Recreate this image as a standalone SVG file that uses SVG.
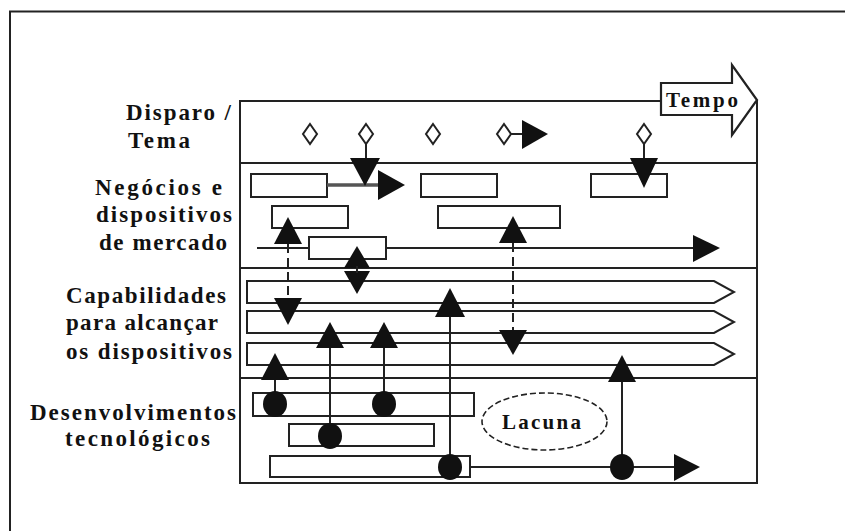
<svg xmlns="http://www.w3.org/2000/svg" width="845" height="531" viewBox="0 0 845 531">
<defs>
<style>
.ln{stroke:#222;stroke-width:2;fill:none}
.box{fill:#fff;stroke:#222;stroke-width:2}
.hd{fill:#111;stroke:none}
.dot{fill:#111}
.dash{stroke:#222;stroke-width:2;fill:none;stroke-dasharray:9,5}
.lbl{font-family:"Liberation Serif","Times New Roman",serif;font-weight:bold;font-size:23px;fill:#111}
.dia{fill:#fff;stroke:#222;stroke-width:2}
</style>
</defs>
<rect width="845" height="531" fill="#fff"/>
<!-- outer frame -->
<path class="ln" d="M10,531 V11.5 H845"/>
<!-- main area -->
<g id="frame">
<path class="ln" d="M661,101 H240 V483 H757 V100"/>
<path class="ln" d="M240,163 H757 M240,268 H757 M240,378 H757"/>
</g>
<g id="tempo">
<path d="M661,83 H732 V65 L757,100 L732,135 V115 H661 Z" fill="#fff" stroke="#222" stroke-width="2.2"/>
<text class="lbl" x="666" y="107" textLength="72" lengthAdjust="spacing" style="font-size:21px">Tempo</text>
</g>
<!-- labels -->
<g id="label-disparo">
<text class="lbl" x="126" y="120" textLength="105" lengthAdjust="spacing">Disparo /</text>
<text class="lbl" x="128" y="148" textLength="62" lengthAdjust="spacing">Tema</text>
</g>
<g id="label-negocios">
<text class="lbl" x="95" y="195" textLength="127" lengthAdjust="spacing">Negócios e</text>
<text class="lbl" x="96" y="222" textLength="136" lengthAdjust="spacing">dispositivos</text>
<text class="lbl" x="99" y="250" textLength="128" lengthAdjust="spacing">de mercado</text>
</g>
<g id="label-capabilidades">
<text class="lbl" x="66" y="303" textLength="160" lengthAdjust="spacing">Capabilidades</text>
<text class="lbl" x="66" y="330" textLength="152" lengthAdjust="spacing">para alcançar</text>
<text class="lbl" x="66" y="359" textLength="166" lengthAdjust="spacing">os dispositivos</text>
</g>
<g id="label-desenvolvimentos">
<text class="lbl" x="30" y="420" textLength="206" lengthAdjust="spacing">Desenvolvimentos</text>
<text class="lbl" x="65" y="446" textLength="145" lengthAdjust="spacing">tecnológicos</text>
</g>
<!-- trigger diamonds -->
<g id="triggers">
<path class="dia" d="M310,124 L317,134 L310,144 L303,134 Z"/>
<path class="dia" d="M366,124 L373,134 L366,144 L359,134 Z"/>
<path class="dia" d="M433,124 L440,134 L433,144 L426,134 Z"/>
<path class="dia" d="M504,124 L511,134 L504,144 L497,134 Z"/>
<path class="dia" d="M644,124 L651,134 L644,144 L637,134 Z"/>
</g>
<!-- business boxes -->
<g id="business">
<rect class="box" x="251" y="174" width="76" height="23"/>
<rect class="box" x="421" y="174" width="76" height="23"/>
<rect class="box" x="591" y="174" width="76" height="23"/>
<rect class="box" x="272" y="206" width="76" height="22"/>
<rect class="box" x="438" y="206" width="122" height="22"/>
<rect class="box" x="309" y="237" width="77" height="22"/>
</g>
<!-- capabilities -->
<g id="capabilities">
<path class="box" d="M247,281 H714 L734,292 L714,303 H247 Z"/>
<path class="box" d="M247,311 H714 L734,322 L714,333 H247 Z"/>
<path class="box" d="M247,343 H714 L734,354 L714,365 H247 Z"/>
</g>
<!-- technology boxes -->
<g id="technology">
<rect class="box" x="253" y="393" width="221" height="23"/>
<rect class="box" x="289" y="424" width="145" height="22"/>
<rect class="box" x="270" y="456" width="200" height="21"/>
</g>
<g id="lacuna">
<ellipse cx="544.5" cy="421.5" rx="62.5" ry="28.5" fill="#fff" stroke="#222" stroke-width="1.6" stroke-dasharray="6,3"/>
<text class="lbl" x="502" y="429" textLength="79" lengthAdjust="spacing" style="font-size:21px">Lacuna</text>
</g>
<!-- connectors -->
<g id="connectors">
<path d="M327,185 H380" stroke="#555" stroke-width="3.5" fill="none"/>
<path class="hd" d="M378,170 L405,185 L378,200 Z"/>
<path class="ln" d="M366,144 V160"/>
<path class="hd" d="M350,158 L380,158 L365,186 Z"/>
<path class="ln" d="M511,134 H524"/>
<path class="hd" d="M522,120 L548,134 L522,149 Z"/>
<path class="ln" d="M644,144 V160"/>
<path class="hd" d="M630,158 L658,158 L644,188 Z"/>
<path class="ln" d="M257,248 H309 M386,248 H695"/>
<path class="hd" d="M693,235 L720,248 L693,262 Z"/>
<path class="hd" d="M288,217 L302,244 L274,244 Z"/>
<path class="dash" d="M288,244 V300"/>
<path class="hd" d="M274,298 L302,298 L288,325 Z"/>
<path class="hd" d="M357,246 L370,268 L344,268 Z"/>
<path class="hd" d="M344,271 L370,271 L357,294 Z"/>
<path class="ln" d="M357,266 V273"/>
<path class="hd" d="M513,216 L527,243 L499,243 Z"/>
<path class="dash" d="M513,243 V332"/>
<path class="hd" d="M499,330 L527,330 L513,355 Z"/>
<path class="ln" d="M275,404 V379"/>
<path class="hd" d="M275,353 L289,380 L261,380 Z"/>
<ellipse class="dot" cx="275" cy="404" rx="12" ry="13"/>
<path class="ln" d="M330,436 V346"/>
<path class="hd" d="M330,322 L344,348 L316,348 Z"/>
<ellipse class="dot" cx="330" cy="436" rx="12" ry="13"/>
<path class="ln" d="M384,404 V346"/>
<path class="hd" d="M384,322 L398,348 L370,348 Z"/>
<ellipse class="dot" cx="384" cy="404" rx="12" ry="13"/>
<path class="ln" d="M450,467 V316"/>
<path class="hd" d="M450,288 L465,317 L435,317 Z"/>
<ellipse class="dot" cx="450" cy="467" rx="12" ry="13"/>
<path class="ln" d="M470,467 H676"/>
<path class="hd" d="M674,454 L700,467 L674,481 Z"/>
<path class="ln" d="M622,467 V381"/>
<path class="hd" d="M622,355 L636,382 L608,382 Z"/>
<ellipse class="dot" cx="622" cy="467" rx="12" ry="13"/>
</g>
</svg>
